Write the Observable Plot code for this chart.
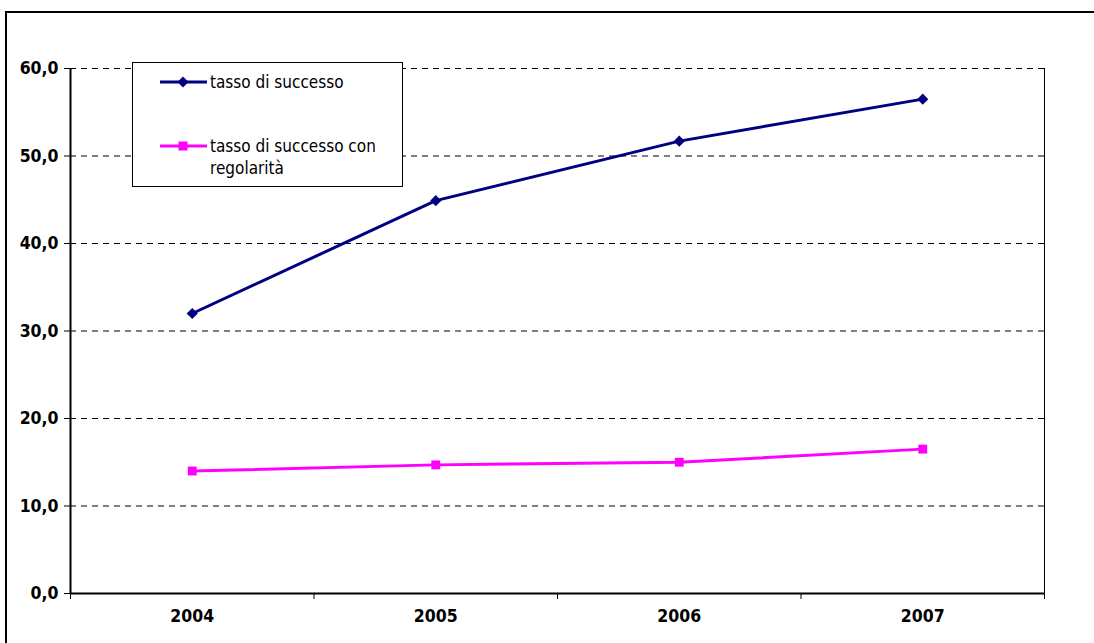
<!DOCTYPE html>
<html>
<head>
<meta charset="utf-8">
<script src="https://cdn.jsdelivr.net/npm/d3@7"></script>
<script src="https://cdn.jsdelivr.net/npm/@observablehq/plot@0.6"></script>
<style>
  html, body { margin: 0; padding: 0; background: #fff; overflow: hidden; }
  #wrap { position: relative; width: 1094px; height: 643px; overflow: hidden; }
  #hline { position: absolute; left: 5px; top: 11px; width: 1089px; height: 2px; background: #000; }
  #vline { position: absolute; left: 5px; top: 11px; width: 2px; height: 632px; background: #000; }
  #chart { position: absolute; left: 0; top: 0; }
  #legend { position: absolute; left: 132px; top: 62px; width: 271px; height: 125px; border: 1px solid #000; background: #fff; box-sizing: border-box;
            font-family: "DejaVu Sans Condensed", "DejaVu Sans", sans-serif; font-stretch: condensed; font-size: 17px; color: #000; }
  #legend .sw { position: absolute; left: 27px; }
  #legend .lab { position: absolute; left: 77px; line-height: 22px; white-space: nowrap; }
</style>
</head>
<body>
<div id="wrap">
  <div id="hline"></div>
  <div id="vline"></div>
  <div id="chart"></div>
  <div id="legend"></div>
</div>
<script>
const years = [2004, 2005, 2006, 2007];
const boundaries = [2003.5, 2004.5, 2005.5, 2006.5, 2007.5];
const yTicks = [0, 10, 20, 30, 40, 50, 60];
const seriesNames = ["tasso di successo", "tasso di successo con regolarità"];
const tassoSuccesso = [32.0, 44.9, 51.7, 56.5];
const tassoRegolarita = [14.0, 14.7, 15.0, 16.5];
const colors = ["#000080", "#FF00FF"];

const data = [
  ...years.map((y, i) => ({year: y, value: tassoSuccesso[i], s: seriesNames[0]})),
  ...years.map((y, i) => ({year: y, value: tassoRegolarita[i], s: seriesNames[1]}))
];
const s1 = data.filter(d => d.s === seriesNames[0]);
const s2 = data.filter(d => d.s === seriesNames[1]);

const fmt = d => d.toFixed(1).replace(".", ",");
const font = {fontFamily: "DejaVu Sans Condensed, DejaVu Sans, sans-serif", fontWeight: "bold", fontSize: 17.5};

const chart = Plot.plot({
  width: 1094,
  height: 643,
  marginLeft: 70,
  marginRight: 50,
  marginTop: 68,
  marginBottom: 50,
  style: {fontFamily: "DejaVu Sans Condensed, DejaVu Sans, sans-serif", fontSize: "17px", fontWeight: "bold", color: "#000", background: "transparent", fontStretch: "condensed"},
  x: {type: "linear", domain: [boundaries[0], boundaries[boundaries.length - 1]]},
  y: {domain: [0, 60]},
  marks: [
    Plot.gridY(yTicks.filter(d => d > 0), {stroke: "#000", strokeOpacity: 1, strokeWidth: 1, strokeDasharray: "6,5"}),
    Plot.ruleX([boundaries[boundaries.length - 1]], {stroke: "#000", strokeWidth: 1}),
    Plot.ruleX([boundaries[0]], {stroke: "#000", strokeWidth: 2}),
    Plot.ruleY([0], {stroke: "#000", strokeWidth: 2}),
    Plot.axisY({ticks: yTicks, tickFormat: fmt, tickSize: 6, tickPadding: 6, label: null, ...font}),
    Plot.axisX({ticks: boundaries, tickSize: 6, tickFormat: () => "", label: null}),
    Plot.axisX({ticks: years, tickSize: 0, tickPadding: 16, tickFormat: d => String(d), label: null, ...font}),
    Plot.line(s1, {x: "year", y: "value", stroke: colors[0], strokeWidth: 3}),
    Plot.line(s2, {x: "year", y: "value", stroke: colors[1], strokeWidth: 3}),
    Plot.dot(s1, {x: "year", y: "value", symbol: "diamond2", r: 5, fill: colors[0], stroke: "none"}),
    Plot.dot(s2, {x: "year", y: "value", symbol: "square", r: 5, fill: colors[1], stroke: "none"})
  ]
});
document.getElementById("chart").appendChild(chart);

// legend
const legend = document.getElementById("legend");
function swatch(color, shape, top) {
  const ns = "http://www.w3.org/2000/svg";
  const svg = document.createElementNS(ns, "svg");
  svg.setAttribute("width", 48); svg.setAttribute("height", 14);
  svg.setAttribute("class", "sw");
  svg.style.top = (top - 7) + "px";
  const line = document.createElementNS(ns, "line");
  line.setAttribute("x1", 0); line.setAttribute("x2", 47); line.setAttribute("y1", 7); line.setAttribute("y2", 7);
  line.setAttribute("stroke", color); line.setAttribute("stroke-width", 3);
  svg.appendChild(line);
  const m = document.createElementNS(ns, "path");
  m.setAttribute("d", shape === "diamond" ? "M23,1.5L28.5,7L23,12.5L17.5,7Z" : "M18.5,2.5H27.5V11.5H18.5Z");
  m.setAttribute("fill", color);
  svg.appendChild(m);
  legend.appendChild(svg);
}
function label(text, top) {
  const d = document.createElement("div");
  d.className = "lab"; d.style.top = (top - 11) + "px"; d.textContent = text;
  legend.appendChild(d);
}
swatch(colors[0], "diamond", 19);
label(seriesNames[0], 19);
swatch(colors[1], "square", 83);
label("tasso di successo con", 83);
label("regolarità", 105);
</script>
</body>
</html>
